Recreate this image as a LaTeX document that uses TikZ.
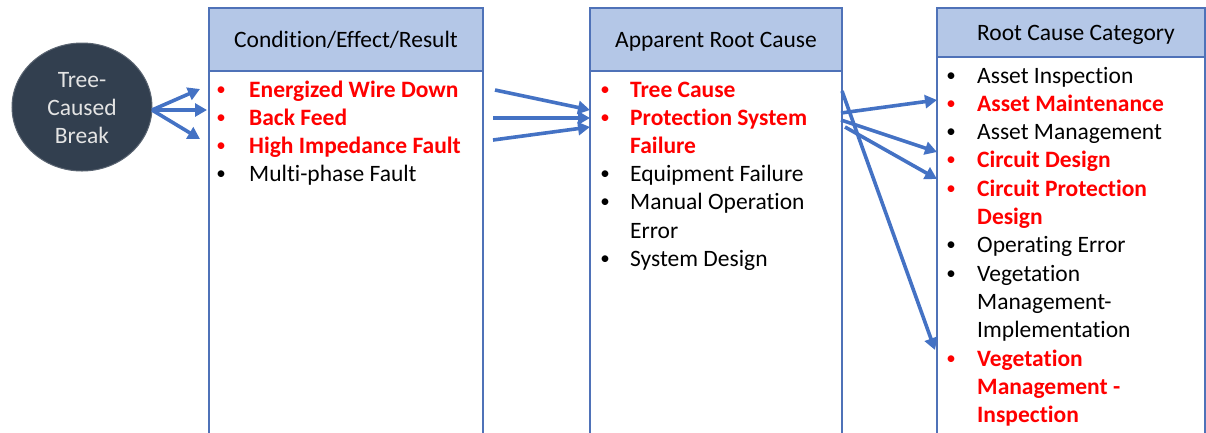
\documentclass[tikz,border=0pt]{standalone}
\usepackage{fontspec}
\setmainfont{Carlito}[Ligatures={NoCommon}]
\usetikzlibrary{shapes.geometric,arrows.meta}
\definecolor{hdr}{HTML}{B4C7E7}
\definecolor{bord}{HTML}{4F72B8}
\definecolor{arr}{HTML}{4472C4}
\definecolor{navy}{HTML}{323F4F}
\definecolor{ltxt}{HTML}{E4E4E4}
\definecolor{rd}{HTML}{FF0000}
\newcommand{\fsz}{\fontsize{23.5}{28}\selectfont}
\tikzset{
  itm/.style={anchor=base west, inner sep=0pt, font=\fsz},
  bul/.style={anchor=base, inner sep=0pt, font=\fontsize{19}{22}\selectfont, yshift=2pt},
  hot/.style={text=rd, font=\fsz\bfseries},
  htxt/.style={anchor=base, inner sep=0pt, font=\fsz},
  ctxt/.style={anchor=base, inner sep=0pt, text=ltxt, font=\fsz},
  boxline/.style={draw=bord, line width=1.2pt},
  hdrbox/.style={draw=bord, line width=1.2pt, fill=hdr},
  conn/.style={draw=arr, line width=3.6pt, -{Triangle[length=12pt,width=13pt]}},
}
\begin{document}
\begin{tikzpicture}[x=1pt,y=-1pt]
\useasboundingbox (0,0) rectangle (1206,432);
\clip (0,0) rectangle (1206,432);
% boxes
\draw[boxline, fill=white] (209,8) rectangle (483,445);
\draw[hdrbox] (209,8) rectangle (483,71);
\draw[boxline, fill=white] (590,8) rectangle (842,445);
\draw[hdrbox] (590,8) rectangle (842,71);
\draw[boxline, fill=white] (937,8) rectangle (1205,445);
\draw[hdrbox] (937,8) rectangle (1205,57);
% headers
\node[htxt] (h1) at (346,47) {Condition/Effect/Result};
\node[htxt] (h2) at (716,47) {Apparent Root Cause};
\node[htxt] (h3) at (1076,40) {Root Cause Category};
% circle
\node[ellipse, fill=navy, draw=navy!80!white, line width=1pt, minimum width=140pt, minimum height=128pt, inner sep=0pt] (tcb) at (82,107) {};
\node[ctxt] (t1) at (82,87) {Tree-};
\node[ctxt] (t2) at (82,115) {Caused};
\node[ctxt] (t3) at (82,143) {Break};
% box1 list
\node[bul, text=rd] (b11) at (221,97) {•};
\node[itm, hot] (a1) at (249,97) {Energized Wire Down};
\node[bul, text=rd] (b12) at (221,125) {•};
\node[itm, hot] (a2) at (249,125) {Back Feed};
\node[bul, text=rd] (b13) at (221,153) {•};
\node[itm, hot] (a3) at (249,153) {High Impedance Fault};
\node[bul] (b14) at (221,181) {•};
\node[itm] (a4) at (249,181) {Multi-phase Fault};
% box2 list
\node[bul, text=rd] (b21) at (605,97) {•};
\node[itm, hot] (c1) at (630,97) {Tree Cause};
\node[bul, text=rd] (b22) at (605,125) {•};
\node[itm, hot] (c2) at (630,125) {Protection System};
\node[itm, hot] (c2b) at (630,153) {Failure};
\node[bul] (b23) at (605,181) {•};
\node[itm] (c3) at (630,181) {Equipment Failure};
\node[bul] (b24) at (605,209) {•};
\node[itm] (c4) at (630,209) {Manual Operation};
\node[itm] (c4b) at (630,238) {Error};
\node[bul] (b25) at (605,266) {•};
\node[itm] (c5) at (630,266) {System Design};
% box3 list
\node[bul] (b31) at (951,83) {•};
\node[itm] (d1) at (977,83) {Asset Inspection};
\node[bul, text=rd] (b32) at (951,111.3) {•};
\node[itm, hot] (d2) at (977,111.3) {Asset Maintenance};
\node[bul] (b33) at (951,139.6) {•};
\node[itm] (d3) at (977,139.6) {Asset Management};
\node[bul, text=rd] (b34) at (951,167.9) {•};
\node[itm, hot] (d4) at (977,167.9) {Circuit Design};
\node[bul, text=rd] (b35) at (951,196.2) {•};
\node[itm, hot] (d5) at (977,196.2) {Circuit Protection};
\node[itm, hot] (d5b) at (977,224.5) {Design};
\node[bul] (b36) at (951,252.8) {•};
\node[itm] (d6) at (977,252.8) {Operating Error};
\node[bul] (b37) at (951,281.1) {•};
\node[itm] (d7) at (977,281.1) {Vegetation};
\node[itm] (d7b) at (977,309.4) {Management-};
\node[itm] (d7c) at (977,337.7) {Implementation};
\node[bul, text=rd] (b38) at (951,366) {•};
\node[itm, hot] (d8) at (977,366) {Vegetation};
\node[itm, hot] (d8b) at (977,394.3) {Management -};
\node[itm, hot] (d8c) at (977,422.6) {Inspection};
% connector endpoints
\coordinate (p0) at (152,110);
\coordinate (e1) at (200,89);
\coordinate (e2) at (207,110);
\coordinate (e3) at (200,139);
\coordinate (s1) at (495,90);
\coordinate (s2) at (493,118);
\coordinate (s3) at (493,140);
\coordinate (f1) at (590,110);
\coordinate (f2) at (590,118);
\coordinate (f3) at (590,127);
\coordinate (r1) at (841,113);
\coordinate (r2) at (841,120);
\coordinate (r3) at (845,127);
\coordinate (r4) at (842,91);
\coordinate (g1) at (937,100);
\coordinate (g2) at (937,152);
\coordinate (g3) at (937,179);
\coordinate (g4) at (935,350);
% connectors
\draw[conn] (p0) -- (e1);
\draw[conn] (p0) -- (e2);
\draw[conn] (p0) -- (e3);
\draw[conn] (s1) -- (f1);
\draw[conn] (s2) -- (f2);
\draw[conn] (s3) -- (f3);
\draw[conn] (r1) -- (g1);
\draw[conn] (r2) -- (g2);
\draw[conn] (r3) -- (g3);
\draw[conn] (r4) -- (g4);
\end{tikzpicture}
\end{document}
